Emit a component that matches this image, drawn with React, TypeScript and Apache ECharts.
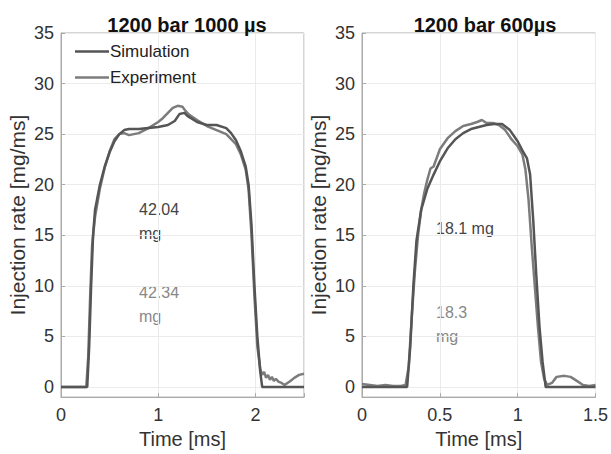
import React, { useEffect, useRef } from "react";
import * as echarts from "echarts";

// Left panel: 1200 bar 1000 µs
const simLeftT = [0, 0.27, 0.29, 0.31, 0.33, 0.35, 0.4, 0.45, 0.5, 0.55, 0.6, 0.65, 0.7, 0.8, 0.9, 1.0, 1.1, 1.17, 1.22, 1.27, 1.3, 1.4, 1.5, 1.6, 1.7, 1.75, 1.8, 1.85, 1.9, 1.93, 1.96, 1.99, 2.02, 2.05, 2.07, 2.2, 2.35, 2.5];
const simLeftV = [0, 0, 4, 10, 15, 17.5, 20, 21.8, 23.2, 24.3, 25.0, 25.4, 25.5, 25.5, 25.6, 25.7, 25.9, 26.3, 27.0, 27.1, 26.8, 26.2, 25.9, 25.9, 25.6, 25.1, 24.4, 23.3, 21.8, 20.0, 16, 10, 5, 1.5, 0, 0, 0, 0];
const expLeftT = [0, 0.26, 0.28, 0.3, 0.32, 0.35, 0.4, 0.45, 0.5, 0.55, 0.6, 0.65, 0.7, 0.75, 0.8, 0.9, 1.0, 1.05, 1.1, 1.15, 1.2, 1.25, 1.28, 1.32, 1.4, 1.5, 1.6, 1.7, 1.75, 1.8, 1.85, 1.9, 1.93, 1.96, 1.99, 2.02, 2.05, 2.07, 2.09, 2.11, 2.13, 2.15, 2.17, 2.19, 2.21, 2.24, 2.27, 2.3, 2.33, 2.36, 2.4, 2.45, 2.5];
const expLeftV = [0, 0, 3, 9, 14, 16.8, 19.6, 21.7, 23.3, 24.5, 25.0, 25.1, 24.9, 25.0, 25.1, 25.6, 26.2, 26.6, 27.1, 27.6, 27.8, 27.7, 27.3, 26.9, 26.4, 25.8, 25.4, 25.0, 24.5, 24.0, 23.0, 21.5, 19.5, 15, 9, 4, 1.8, 1.2, 1.5, 0.9, 1.2, 0.7, 1.0, 0.6, 0.8, 0.5, 0.4, 0.2, 0.4, 0.6, 0.9, 1.2, 1.3];

// Right panel: 1200 bar 600 µs
const simRightT = [0, 0.29, 0.31, 0.33, 0.35, 0.38, 0.42, 0.46, 0.5, 0.55, 0.6, 0.65, 0.7, 0.75, 0.8, 0.85, 0.9, 0.95, 1.0, 1.03, 1.06, 1.08, 1.1, 1.12, 1.14, 1.16, 1.18, 1.25, 1.35, 1.5];
const simRightV = [0, 0, 4, 10, 14.5, 17.5, 19.6, 21.0, 22.3, 23.6, 24.5, 25.1, 25.5, 25.7, 25.9, 26.0, 26.0, 25.4, 24.3, 23.4, 22.6, 21, 16.5, 11, 6, 2.5, 0, 0, 0, 0];
const expRightT = [0, 0.05, 0.1, 0.15, 0.2, 0.25, 0.28, 0.3, 0.32, 0.34, 0.36, 0.38, 0.4, 0.42, 0.44, 0.46, 0.5, 0.55, 0.6, 0.65, 0.7, 0.74, 0.77, 0.8, 0.84, 0.88, 0.92, 0.96, 1.0, 1.03, 1.05, 1.07, 1.09, 1.11, 1.13, 1.15, 1.17, 1.19, 1.22, 1.25, 1.3, 1.34, 1.38, 1.42, 1.46, 1.5];
const expRightV = [0.3, 0.2, 0.1, 0.2, 0.1, 0.1, 0.2, 2, 7, 11.5, 15, 17.5, 19.2, 20.5, 21.6, 21.8, 23.5, 24.6, 25.3, 25.8, 26.0, 26.2, 26.4, 26.1, 26.1, 25.9, 25.4, 24.5, 23.8, 23.0, 21.5, 18.5, 14, 10, 6, 2.5, 0.8, 0.2, 0.4, 1.0, 1.1, 1.0, 0.6, 0.2, 0.1, 0.2];

const seriesNames = ["Simulation", "Experiment"];
const titles = ["1200 bar 1000 µs", "1200 bar 600µs"];
const massLeft = ["42.04\nmg", "42.34\nmg"];
const massRight = ["18.1 mg", "18.3\nmg"];

const SIM_COLOR = "#555555";
const EXP_COLOR = "#7c7c7c";
const FONT = "Liberation Sans, Arial, sans-serif";

const zip = (t: number[], v: number[]) => t.map((x, i) => [x, v[i]]);

export default function App() {
  const ref = useRef<HTMLDivElement>(null);
  useEffect(() => {
    if (!ref.current) return;
    const chart = echarts.init(ref.current, undefined, { renderer: "svg" });
    const yAxisBase = (gridIndex: number) => ({
      type: "value",
      gridIndex,
      min: -1,
      max: 35,
      splitNumber: 7,
      name: "Injection rate [mg/ms]",
      nameLocation: "middle",
      nameGap: 33,
      nameTextStyle: { fontSize: 21, color: "#333", fontFamily: FONT },
      axisLine: { show: true, lineStyle: { color: "#aaa" } },
      axisTick: { show: true, inside: true, length: 4, lineStyle: { color: "#aaa" } },
      axisLabel: {
        fontSize: 18,
        color: "#333",
        fontFamily: FONT,
        margin: 7,
        formatter: (v: number) => (Math.abs(v % 5) < 1e-9 ? String(v) : ""),
      },
      splitLine: { show: true, lineStyle: { color: "#ebebeb" } },
    });
    const xAxisBase = (gridIndex: number, max: number, interval: number) => ({
      type: "value",
      gridIndex,
      min: 0,
      max,
      interval,
      name: "Time [ms]",
      nameLocation: "middle",
      nameGap: 31,
      nameTextStyle: { fontSize: 20, color: "#333", fontFamily: FONT },
      axisLine: { show: true, onZero: false, lineStyle: { color: "#aaa" } },
      axisTick: { show: true, inside: true, length: 4, lineStyle: { color: "#aaa" } },
      axisLabel: {
        fontSize: 18,
        color: "#333",
        fontFamily: FONT,
        margin: 9,
        formatter: (v: number) => {
          const r = Math.round(v / interval);
          return Math.abs(v / interval - r) < 1e-9 ? String(v) : "";
        },
      },
      splitLine: { show: true, lineStyle: { color: "#ebebeb" } },
    });
    const lineSeries = (name: string, data: number[][], idx: number, color: string) => ({
      name,
      type: "line",
      xAxisIndex: idx,
      yAxisIndex: idx,
      data,
      showSymbol: false,
      symbol: "none",
      smooth: false,
      lineStyle: { color, width: 2.5 },
      itemStyle: { color },
    });
    chart.setOption({
      animation: false,
      backgroundColor: "#fff",
      title: [
        { text: titles[0], left: 182, top: 10, textAlign: "center", textStyle: { fontSize: 20, fontWeight: "bold", color: "#111", fontFamily: FONT } },
        { text: titles[1], left: 480, top: 10, textAlign: "center", textStyle: { fontSize: 20, fontWeight: "bold", color: "#111", fontFamily: FONT } },
      ],
      legend: {
        data: seriesNames,
        orient: "vertical",
        left: 70,
        top: 38,
        itemWidth: 34,
        itemHeight: 2.5,
        itemGap: 9,
        icon: "rect",
        textStyle: { fontSize: 17, color: "#222", fontFamily: FONT, padding: [0, 0, 0, -4] },
      },
      grid: [
        { left: 61, top: 33, width: 243, height: 367, show: true, borderColor: "#aaa", borderWidth: 1 },
        { left: 362, top: 33, width: 236, height: 367, show: true, borderColor: "#aaa", borderWidth: 1 },
      ],
      xAxis: [xAxisBase(0, 2.5, 1), xAxisBase(1, 1.5, 0.5)],
      yAxis: [yAxisBase(0), yAxisBase(1)],
      series: [
        lineSeries(seriesNames[1], zip(expLeftT, expLeftV), 0, EXP_COLOR),
        lineSeries(seriesNames[0], zip(simLeftT, simLeftV), 0, SIM_COLOR),
        lineSeries(seriesNames[1], zip(expRightT, expRightV), 1, EXP_COLOR),
        lineSeries(seriesNames[0], zip(simRightT, simRightV), 1, SIM_COLOR),
      ],
      graphic: [
        { type: "text", left: 139, top: 197, style: { text: massLeft[0], fontSize: 16, lineHeight: 24, fill: "#444", fontFamily: FONT } },
        { type: "text", left: 139, top: 280, style: { text: massLeft[1], fontSize: 16, lineHeight: 24, fill: "#888", fontFamily: FONT } },
        { type: "text", left: 436, top: 216, style: { text: massRight[0], fontSize: 16, lineHeight: 24, fill: "#444", fontFamily: FONT } },
        { type: "text", left: 436, top: 300, style: { text: massRight[1], fontSize: 16, lineHeight: 24, fill: "#888", fontFamily: FONT } },
      ],
    });
    return () => chart.dispose();
  }, []);
  return <div ref={ref} style={{ width: 611, height: 454, position: "absolute", left: 0, top: 0 }} />;
}
